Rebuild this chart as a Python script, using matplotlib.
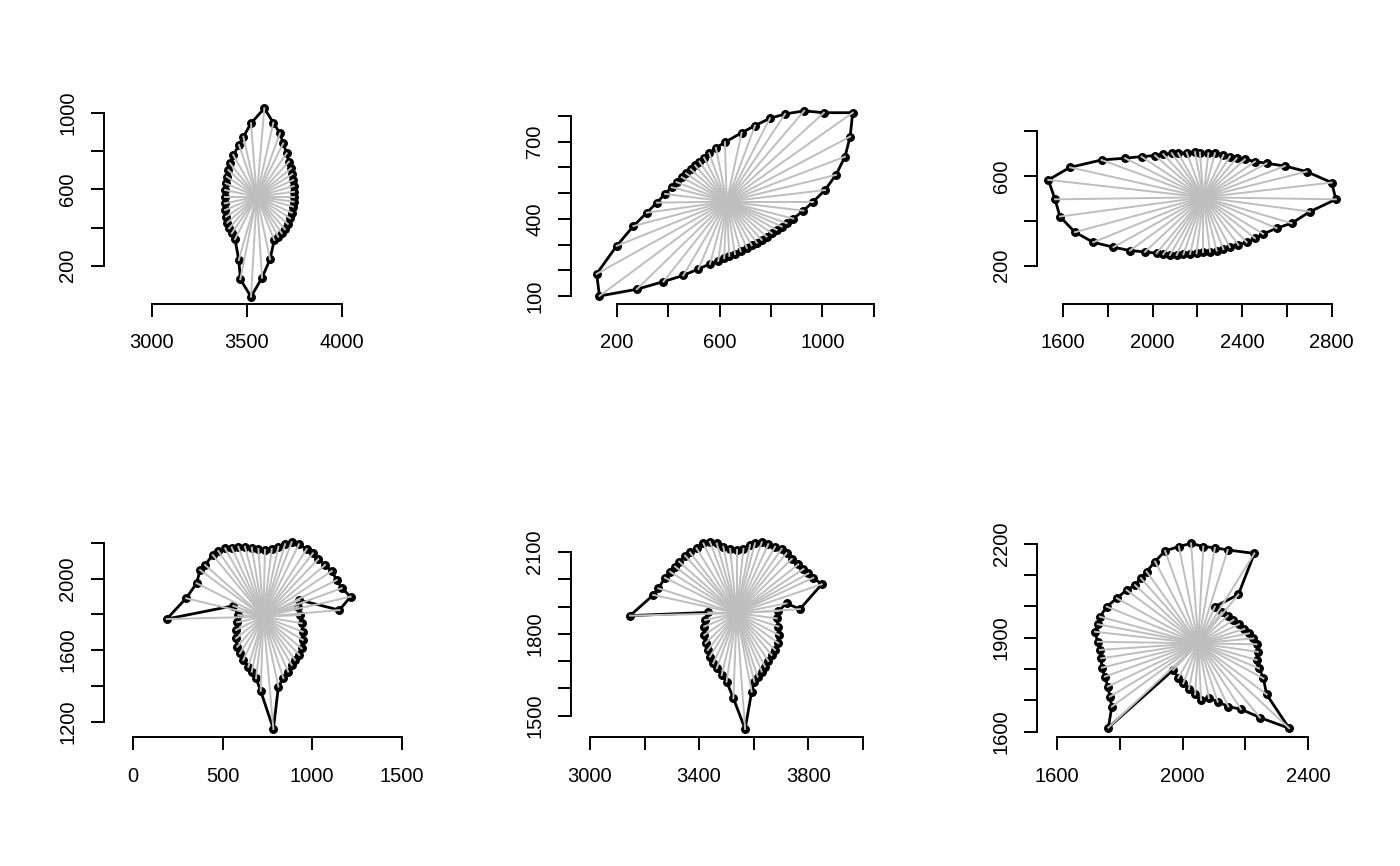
import matplotlib.pyplot as plt

plt.rcParams['font.family'] = ['Liberation Sans', 'DejaVu Sans']

# ---- outlines (points at equally spaced radii) + centroid of the spokes ----
leaf1_x = [3591, 3638, 3673, 3690, 3708, 3720, 3731, 3738, 3743, 3745, 3747, 3747,
           3745, 3741, 3735, 3726, 3714, 3699, 3682, 3664, 3643, 3621, 3579, 3521,
           3465, 3457, 3437, 3420, 3406, 3397, 3390, 3385, 3383, 3383, 3385, 3388,
           3394, 3402, 3411, 3428, 3458, 3481, 3521]
leaf1_y = [1026, 950, 895, 842, 790, 746, 711, 681, 650, 618, 588, 562,
           536, 510, 478, 449, 419, 391, 370, 352, 335, 234, 137, 37,
           129, 230, 339, 370, 396, 426, 457, 492, 527, 562, 597, 632,
           667, 702, 737, 781, 833, 877, 947]
leaf1_c = (3551, 562)

leaf2_x = [133, 122, 200, 265, 317, 356, 388, 414, 433, 453, 470, 488, 505,
           522, 540, 560, 586, 621, 686, 738, 796, 855, 929, 1006, 1118,
           1108, 1088, 1053, 1010, 965, 926, 887, 861, 842, 822, 803, 783,
           764, 745, 725, 706, 682, 660, 638, 618, 595, 563, 518, 459, 382, 278]
leaf2_y = [100, 186, 295, 372, 424, 463, 497, 523, 543, 562, 577, 593, 608,
           623, 638, 655, 676, 698, 735, 763, 791, 808, 820, 813, 813,
           720, 642, 571, 512, 467, 432, 401, 383, 370, 357, 344, 331,
           318, 307, 297, 287, 274, 263, 256, 247, 237, 225, 205, 180, 156, 126]
leaf2_c = (628, 467)

leaf3_x = [1533, 1630, 1771, 1876, 1950, 2010, 2047, 2085, 2114, 2152, 2189, 2211,
           2249, 2278, 2316, 2345, 2375, 2412, 2457, 2509, 2591, 2688, 2800, 2819,
           2703, 2621, 2554, 2494, 2457, 2420, 2383, 2345, 2316, 2286, 2256, 2226,
           2196, 2167, 2137, 2107, 2077, 2047, 2017, 1965, 1898, 1824, 1734, 1652,
           1585, 1563]
leaf3_y = [583, 639, 672, 680, 687, 692, 698, 702, 702, 705, 707, 705,
           702, 702, 694, 687, 680, 675, 665, 657, 645, 620, 571, 496,
           441, 389, 367, 341, 322, 304, 292, 282, 273, 267, 262, 259,
           255, 252, 250, 247, 247, 250, 255, 261, 267, 282, 304, 349,
           419, 496]
leaf3_c = (2226, 505)

leaf4_x = [187, 295, 354, 373, 401, 444, 475, 513, 550, 587, 624, 662, 699,
           736, 774, 811, 848, 885, 926, 969, 1003, 1034, 1072, 1109, 1137,
           1165, 1215, 1152, 928, 922, 932, 941, 947, 947, 941, 928, 904,
           885, 866, 839, 811, 783, 712, 686, 662, 643, 615, 596, 581,
           574, 574, 581, 587, 559]
leaf4_y = [1774, 1890, 1974, 2048, 2076, 2132, 2154, 2169, 2173, 2178, 2178, 2173, 2165,
           2160, 2165, 2178, 2192, 2203, 2192, 2165, 2141, 2109, 2076, 2042, 1992,
           1946, 1899, 1824, 1880, 1843, 1796, 1750, 1703, 1657, 1610, 1573, 1545,
           1517, 1480, 1443, 1396, 1159, 1372, 1443, 1480, 1507, 1545, 1582, 1619,
           1666, 1713, 1756, 1796, 1848]
leaf4_c = (727, 1787)

leaf5_x = [3147, 3232, 3251, 3275, 3294, 3312, 3327, 3349, 3367, 3391, 3416, 3440,
           3465, 3489, 3514, 3538, 3563, 3587, 3605, 3630, 3654, 3679, 3703, 3721,
           3740, 3764, 3783, 3801, 3819, 3850, 3770, 3721, 3691, 3685, 3691, 3693,
           3691, 3679, 3666, 3654, 3642, 3630, 3615, 3603, 3593, 3569, 3526, 3501,
           3483, 3465, 3452, 3440, 3432, 3424, 3419, 3419, 3422, 3434]
leaf5_y = [1867, 1943, 1967, 2006, 2028, 2047, 2065, 2087, 2099, 2114, 2132, 2138,
           2132, 2120, 2112, 2108, 2112, 2126, 2132, 2136, 2129, 2120, 2112, 2096,
           2075, 2055, 2038, 2022, 2006, 1982, 1891, 1912, 1884, 1857, 1827, 1796,
           1766, 1741, 1723, 1701, 1680, 1662, 1643, 1625, 1588, 1451, 1564, 1625,
           1649, 1674, 1692, 1717, 1741, 1766, 1796, 1827, 1851, 1879]
leaf5_c = (3538, 1876)

leaf6_x = [1763, 1774, 1768, 1761, 1752, 1742, 1740, 1736, 1729, 1720, 1729, 1736,
           1758, 1790, 1821, 1848, 1867, 1885, 1912, 1944, 1988, 2027, 2066, 2103,
           2144, 2229, 2178, 2103, 2125, 2144, 2162, 2180, 2197, 2212, 2226, 2236,
           2240, 2236, 2244, 2258, 2268, 2340, 2247, 2186, 2146, 2112, 2084, 2059,
           2040, 2020, 2002, 1986, 1970]
leaf6_y = [1613, 1680, 1712, 1744, 1776, 1804, 1834, 1861, 1887, 1919, 1943, 1967,
           1999, 2026, 2052, 2068, 2090, 2111, 2143, 2177, 2191, 2201, 2191, 2187,
           2180, 2169, 2038, 1999, 1981, 1970, 1957, 1943, 1928, 1914, 1898, 1879,
           1855, 1829, 1802, 1770, 1719, 1611, 1645, 1672, 1680, 1696, 1707, 1701,
           1719, 1736, 1754, 1772, 1797]
leaf6_c = (2050, 1882)

shapes = [(leaf1_x, leaf1_y, leaf1_c), (leaf2_x, leaf2_y, leaf2_c),
          (leaf3_x, leaf3_y, leaf3_c), (leaf4_x, leaf4_y, leaf4_c),
          (leaf5_x, leaf5_y, leaf5_c), (leaf6_x, leaf6_y, leaf6_c)]

# axis ranges (asp = 1) and ticks, labels left out where R drops them
xlims = [(2749.7, 4372.5), (21, 1224), (1483.9, 2867.1),
         (-163.8, 1565.1), (2929.1, 4063.7), (1536.3, 2523.5)]
ylims = [(1.7, 1048.4), (70.8, 846.8), (30.2, 922.3),
         (1117.3, 2232.4), (1423.7, 2155.5), (1584.7, 2221.4)]
xticks = [[3000, 3500, 4000], [200, 400, 600, 800, 1000, 1200],
          [1600, 1800, 2000, 2200, 2400, 2600, 2800], [0, 500, 1000, 1500],
          [3000, 3200, 3400, 3600, 3800, 4000], [1600, 1800, 2000, 2200, 2400]]
xlabels = [['3000', '3500', '4000'], ['200', '', '600', '', '1000', ''],
           ['1600', '', '2000', '', '2400', '', '2800'], ['0', '500', '1000', '1500'],
           ['3000', '', '3400', '', '3800', ''], ['1600', '', '2000', '', '2400']]
yticks = [[200, 400, 600, 800, 1000], [100, 200, 300, 400, 500, 600, 700, 800],
          [200, 400, 600, 800], [1200, 1400, 1600, 1800, 2000, 2200],
          [1500, 1600, 1700, 1800, 1900, 2000, 2100],
          [1600, 1700, 1800, 1900, 2000, 2100, 2200]]
ylabels = [['200', '', '600', '', '1000'], ['100', '', '', '400', '', '', '700', ''],
           ['200', '', '600', ''], ['1200', '', '1600', '', '2000', ''],
           ['1500', '', '', '1800', '', '', '2100'],
           ['1600', '', '', '1900', '', '', '2200']]

W, H = 1400, 866
fig = plt.figure(figsize=(14, 8.66), dpi=100)

for i, (x, y, c) in enumerate(shapes):
    col, row = i % 3, i // 3
    left = 104 + col * 466.67
    top = 104 + row * 433
    ax = fig.add_axes([left / W, 1 - (top + 199.5) / H, 309.3 / W, 199.5 / H])

    ax.plot(x + [x[0]], y + [y[0]], color='black', lw=2.0, zorder=2)
    ax.plot(x, y, 'o', ms=5.6, mfc='black', mec='black', mew=0.8, zorder=3)
    for xi, yi in zip(x, y):
        ax.plot([c[0], xi], [c[1], yi], color='#bebebe', lw=1.4, zorder=4)

    ax.set_xlim(xlims[i])
    ax.set_ylim(ylims[i])
    ax.set_xticks(xticks[i])
    ax.set_xticklabels(xlabels[i])
    ax.set_yticks(yticks[i])
    ax.set_yticklabels(ylabels[i], rotation=90, va='center')

    for s in ['top', 'right']:
        ax.spines[s].set_visible(False)
    ax.spines['left'].set_bounds(yticks[i][0], yticks[i][-1])
    ax.spines['bottom'].set_bounds(xticks[i][0], xticks[i][-1])
    ax.spines['left'].set_linewidth(1.4)
    ax.spines['bottom'].set_linewidth(1.4)
    ax.tick_params(axis='both', direction='out', length=9.6, width=1.4,
                   labelsize=14.5, colors='black')
    ax.tick_params(axis='x', pad=12)
    ax.tick_params(axis='y', pad=9.5)
    ax.patch.set_alpha(0)

fig.savefig('out.png', dpi=100)
